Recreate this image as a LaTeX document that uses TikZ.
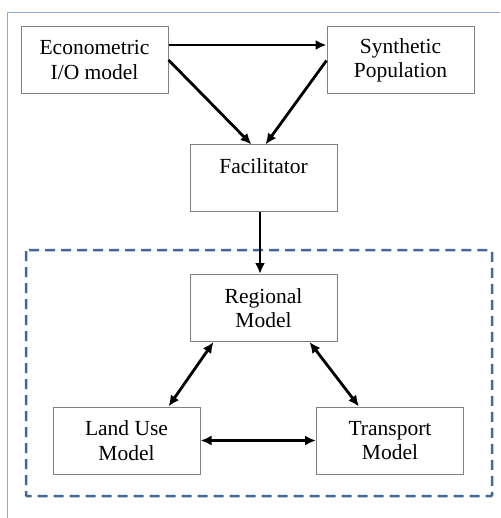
\documentclass[tikz,border=0pt]{standalone}
\usepackage{fontspec}
\setmainfont{Liberation Serif}
\usetikzlibrary{arrows.meta}

\definecolor{frameblue}{HTML}{8EAADB}
\definecolor{dashblue}{HTML}{41689C}
\tikzstyle{model} = [rectangle,draw=black!50,line width=1pt,minimum width=147pt,minimum height=67pt,align=center,font=\fontsize{21.5}{24.5}\selectfont]
\tikzstyle{link} = [line width=2.8pt]

\begin{document}
\begin{tikzpicture}[x=1pt,y=-1pt,>={Latex[length=11pt,width=10pt]}]
	\useasboundingbox (0,0) rectangle (500,518);

	% outer frame and model group
	\draw[frameblue,line width=1pt] (7,518) -- (7,13) -- (500,13);
	\draw[dashblue,line width=2.5pt,dash pattern=on 10pt off 6pt,rounded corners=1pt] (26,250) rectangle (492,496);

	\node (econ) [model] at (94.5,60) {Econometric\\I/O model};
	\node (synth) [model] at (400.5,60.5) {Synthetic\\Population};
	\node (facil) [model] at (263.5,178.5) {Facilitator\\~};
	\node (regional) [model] at (263.5,308) {Regional\\Model};
	\node (landuse) [model] at (126.5,440.5) {Land Use\\Model};
	\node (transport) [model] at (390,440.5) {Transport\\Model};

	\path[->]
		([yshift=15pt]econ.east) edge[link] ([yshift=15pt]econ.east -| synth.west)
		(econ.east) edge[link] ([xshift=-12pt]facil.north)
		(synth.west) edge[link] ([xshift=2pt]facil.north)
		([xshift=-3.5pt]facil.south) edge[link] ([xshift=-3.5pt]regional.north)
		;

	\path[<->]
		([xshift=-50pt]regional.south) edge[link] ([xshift=42pt]landuse.north)
		([xshift=46pt]regional.south) edge[link] ([xshift=-31pt]transport.north)
		(landuse) edge[link] (transport)
		;

\end{tikzpicture}
\end{document}
